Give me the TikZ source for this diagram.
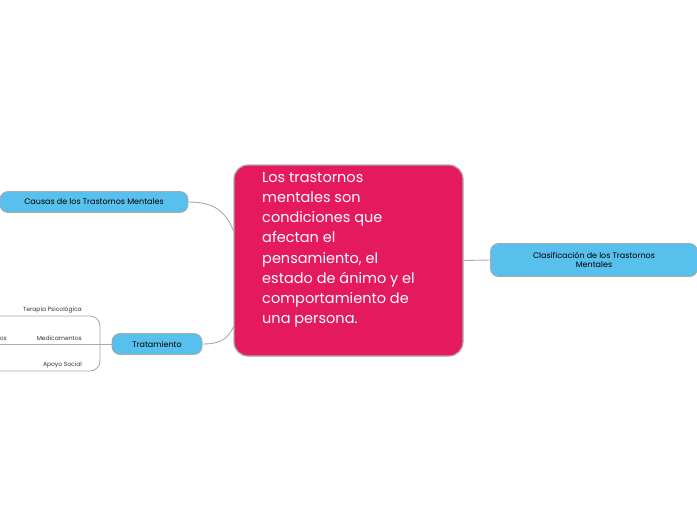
\documentclass[tikz,border=0pt]{standalone}
\usepackage{fontspec}
\setmainfont{Poppins}
\definecolor{pink}{HTML}{E5195E}
\definecolor{sky}{HTML}{58C0EC}
\definecolor{edge}{HTML}{AAAAAA}
\begin{document}
\begin{tikzpicture}[x=1pt,y=-1pt,
  topic/.style={draw=edge,line width=0.8pt,fill=sky,rounded corners=8pt,font=\fontsize{8}{9.5}\selectfont,text=black,inner sep=0pt,align=center},
  link/.style={draw=edge,line width=0.9pt},
  leaf/.style={font=\fontsize{6}{7}\selectfont,text=black!80,inner sep=0pt,anchor=south east}]
\useasboundingbox (0,0) rectangle (697,520);
\node[draw=edge,line width=1.2pt,fill=pink,rounded corners=14pt,minimum width=229pt,minimum height=191pt,inner sep=0pt] (c) at (348.5,260.5) {};
\node[anchor=north west,text=white,align=left,font=\fontsize{14.5}{20.2}\selectfont,inner sep=0pt] (ct) at (262,172) {Los trastornos\\mentales son\\condiciones que\\afectan el\\pensamiento, el\\estado de ánimo y el\\comportamiento de\\una persona.};
\node[topic,minimum width=188pt,minimum height=21pt] (causas) at (94,202) {Causas de los Trastornos Mentales};
\node[topic,minimum width=90pt,minimum height=21pt] (trat) at (157,344) {Tratamiento};
\node[topic,minimum width=207pt,minimum height=33pt] (clas) at (594,260) {Clasificación de los Trastornos\\Mentales};
\coordinate (ca) at (234,232);
\coordinate (cb) at (234,326);
\draw[link] (causas.east) .. controls (215,202) and (226,212) .. (ca);
\draw[link] (trat.east) .. controls (222,344) and (228,338) .. (cb);
\draw[link] (c.east) -- (clas.west);
\coordinate (t1) at (0,316);
\coordinate (t2) at (0,344);
\coordinate (t3) at (0,371);
\draw[link] (trat.west) -- (t2);
\draw[link,rounded corners=10pt] (t1) -- (100,316) -- (100,371) -- (t3);
\node[leaf] (l1) at (82,313) {Terapia Psicológica};
\node[leaf] (l2) at (82,341) {Medicamentos};
\node[leaf] (l3) at (82,368) {Apoyo Social};
\node[leaf] (l4) at (7,341) {os};
\end{tikzpicture}
\end{document}
